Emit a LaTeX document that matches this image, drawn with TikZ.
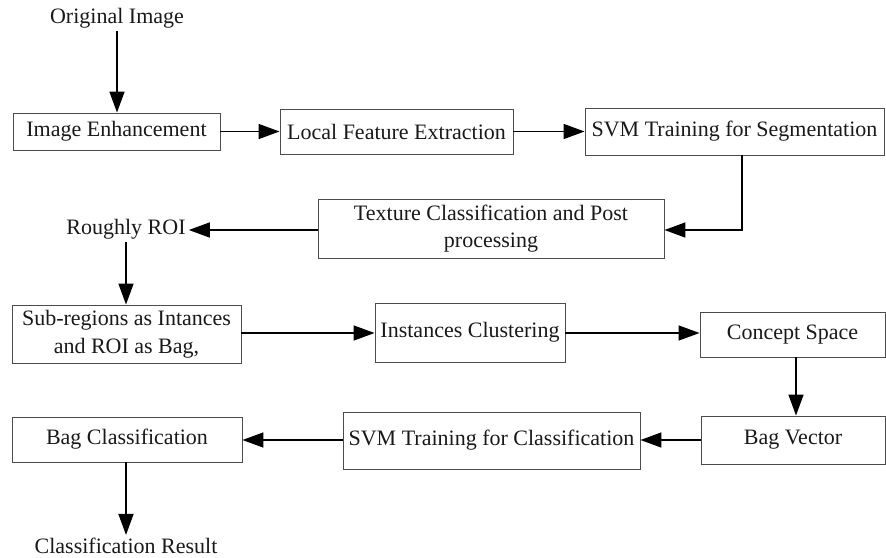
\documentclass[tikz,border=0pt]{standalone}
\usepackage{fontspec}
\setmainfont{Liberation Serif}
\usetikzlibrary{arrows.meta,calc}
\begin{document}
\begin{tikzpicture}[x=1pt,y=-1pt,
  box/.style={draw=black!70,line width=0.9pt,inner sep=0pt,align=center,text=black!90,font=\fontsize{22}{27.5}\selectfont},
  lbl/.style={inner sep=3pt,text=black!90,font=\fontsize{22}{27.5}\selectfont},
  arr/.style={draw=black,line width=1.5pt,-{Triangle[length=21pt,width=15pt]}}]
\useasboundingbox (0,0) rectangle (886,557);
% text nodes
\node[lbl] (orig) at (117,18) {Original Image};
\node[lbl] (roi) at (126,229) {Roughly ROI};
\node[lbl] (res) at (126,546) {Classification Result};
% boxes
\node[box,minimum width=207pt,minimum height=37pt] (enh) at (116.5,131.5) {Image Enhancement};
\node[box,minimum width=233pt,minimum height=45pt] (lfe) at (396.5,131.5) {Local Feature Extraction};
\node[box,minimum width=299pt,minimum height=47pt] (svms) at (734.5,131.5) {SVM Training for Segmentation};
\node[box,minimum width=346pt,minimum height=59pt] (tex) at (491,228.5) {Texture Classification and Post\\processing};
\node[box,minimum width=229pt,minimum height=58pt] (sub) at (126.5,334) {Sub-regions as Intances\\and ROI as Bag,};
\node[box,minimum width=190pt,minimum height=59pt] (inst) at (470,332.5) {Instances Clustering};
\node[box,minimum width=185pt,minimum height=45pt] (con) at (792.5,334.5) {Concept Space};
\node[box,minimum width=230pt,minimum height=45pt] (bagc) at (127,439.5) {Bag Classification};
\node[box,minimum width=297pt,minimum height=57pt] (svmc) at (491.5,440.5) {SVM Training for Classification};
\node[box,minimum width=184pt,minimum height=48pt] (bagv) at (793,440) {Bag Vector};
\coordinate (bend) at (742,230);
% connectors
\draw[arr] (orig.south) -- (orig.south |- enh.north);
\draw[arr] (enh.east) -- (lfe.west);
\draw[arr] (lfe.east) -- (svms.west);
\draw[arr] (bend |- svms.south) -- (bend) -- (tex.east |- bend);
\draw[arr] (tex.west |- bend) -- (roi.east |- bend);
\draw[arr] (roi.south) -- (roi.south |- sub.north);
\draw[arr] (sub.east |- 0,333) -- (inst.west |- 0,333);
\draw[arr] (inst.east |- 0,333) -- (con.west |- 0,333);
\draw[arr] (con.south -| 796,0) -- (bagv.north -| 796,0);
\draw[arr] (bagv.west) -- (svmc.east |- bagv.west);
\draw[arr] (svmc.west |- bagv.west) -- (bagc.east |- bagv.west);
\draw[arr] (res.north |- bagc.south) -- (res.north);
\end{tikzpicture}
\end{document}
